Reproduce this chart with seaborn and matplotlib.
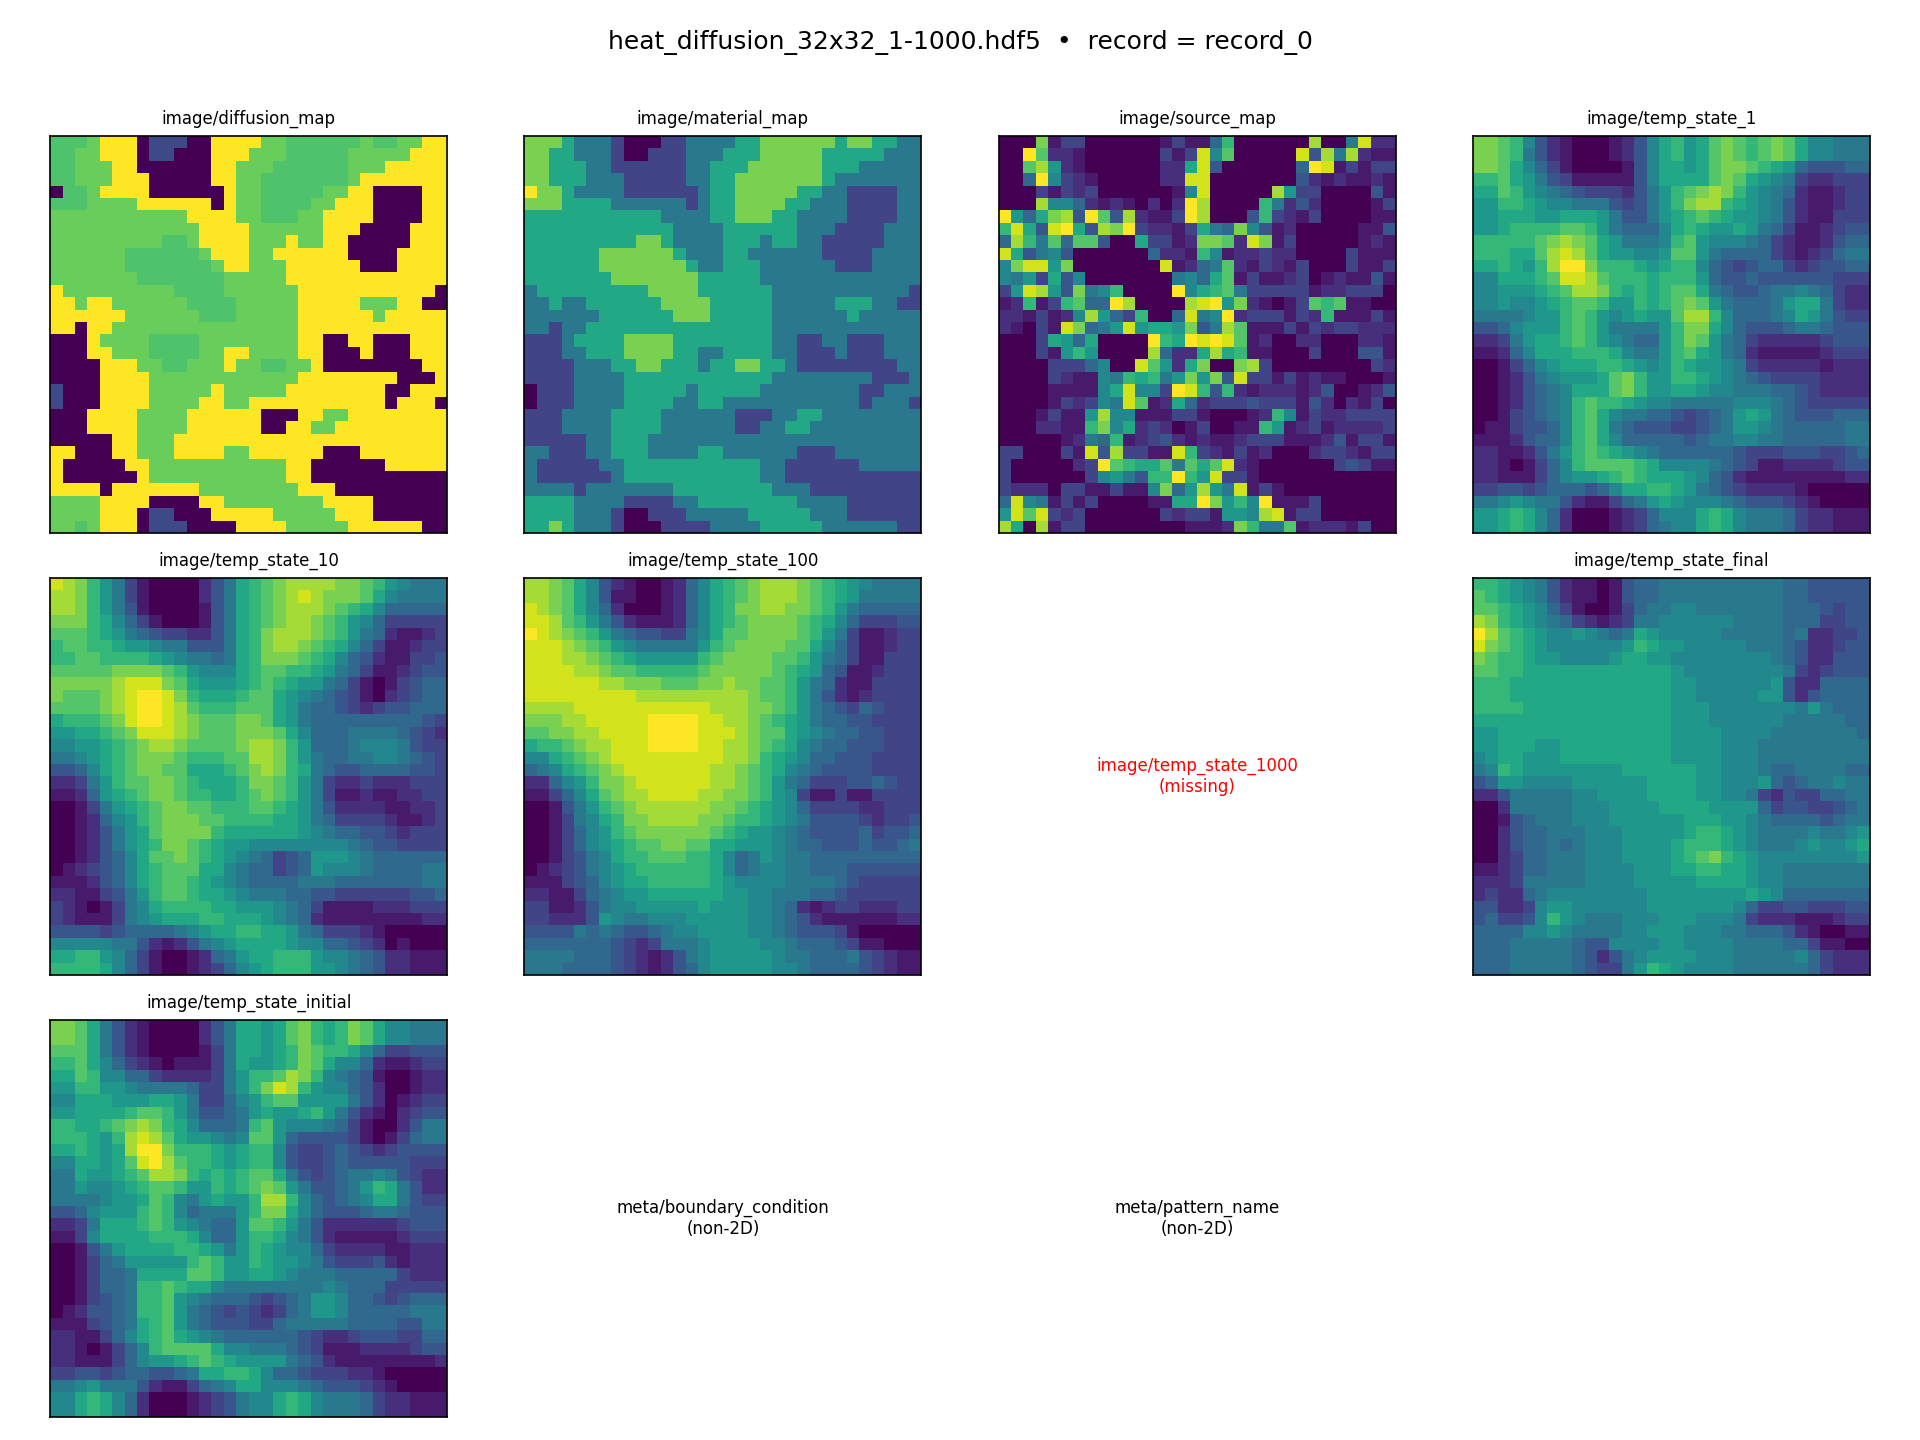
import matplotlib
matplotlib.use("Agg")
import matplotlib.pyplot as plt
import numpy as np
import seaborn as sns

# every map is 32 rows of 32 hex digits (0 = low end of viridis, f = top)
material_levels = [0.0, 0.2, 0.4, 0.6, 0.8, 1.0]
diffusion_levels = [0.22, 0.0, 1.0, 0.77, 0.72, 0.0]

material_map = [
    "44432221000112222334444443443322",
    "44332221001112223334444433333222",
    "44333221111112233344444433322222",
    "44333222111112233444444432222222",
    "54432222111111233444443322111122",
    "44433332222221233444433222111122",
    "33333333333222233444332222111122",
    "33333333333322223333332221111222",
    "33333333344322223332332211111222",
    "33333344444432223322222211112222",
    "33333344444443223332222221112222",
    "33333334444444333332222222222222",
    "23333333334444333333222222222221",
    "22322333333444433333222223332211",
    "22222233333344433333222222322222",
    "22122333333333333333222222222222",
    "11123333444433333333221122111222",
    "11122333444433223333221112111222",
    "11112223344333233443321111111122",
    "11112222333333333333222222221112",
    "01112222333332333332222222211222",
    "01112222333322332222222222212221",
    "11122223333222222111223322222222",
    "11122223333222222112233222222222",
    "11111223332222222222222222222222",
    "22111223332222332222221112222222",
    "21111122333333333332211111122222",
    "21111112333333333332211111111111",
    "22221222222233333333222111111111",
    "33332222111122333333332222111111",
    "33332221001112222233333222111111",
    "33432221000111122223333322222211",
]

source_map = [
    "000c1330 00000131 15a00000 0d006e22",
    "00fb2210 00000313 e7b00000 e4d6d211",
    "00bd8210 00000229 e4000000 5fe13133",
    "005f7321 0000022e e0000000 42121121",
    "00031323 00000017 e00000d8 33000041",
    "000d7752 1210202f d0000a62 42000013",
    "f859cd4f b4d2113f d0004a32 13000011",
    "ae94ef94 dcf32213 965c7412 00000114",
    "5da6b5bb 40093312 ccb2ec13 00000121",
    "e9467400 00005221 a7122322 00003111",
    "7cee8c00 00000e12 56b21321 30003113",
    "76839470 00000067 59b13112 30121141",
    "38ed84c6 7a0000f7 9ab63333 31223330",
    "12a13ab5 5fd0000d ef8c2101 3bab1100",
    "2213127d 853a005e 67f23331 32a11131",
    "21031ec5 68e8998c 46db1113 13233222",
    "00039859 0000fa9f efeb1200 22000221",
    "000318a8 0000d522 9d9a1100 03000441",
    "00003335 700eb829 c00cd300 00000032",
    "00003211 76a9a68c 8c4e3313 12110001",
    "00001111 79e773fe a4a21222 12400124",
    "00001323 76eb1295 23334333 14202130",
    "00013118 d7711133 100012a7 13223333",
    "0002211a c7923201 30011a81 23122223",
    "00000126 5a123421 21123331 11241331",
    "3300031e 4d3311ea 32131200 02332133",
    "30000023 fba99b6b 9be21000 00034311",
    "30000003 7864aafa 8e331000 00000000",
    "32220331 13117c58 d86e1310 00000000",
    "5e761313 00001199 fc8a7f11 13000000",
    "8ebe3230 00000323 31887de1 33000000",
    "d90d1330 00000001 112ca66b 12221300",
]

temp_state_1 = [
    "ccba7421 00012479 a89bcbab cb977666",
    "ccba6421 00012479 a89bcbab cb977666",
    "ccb97531 00001479 989bccba 98544455",
    "aab98643 11111479 999bcb98 76322333",
    "99ba8765 43332468 abcdca87 65211233",
    "88aa9877 66643468 acdda987 64211233",
    "88999889 99864468 9aba9887 64211333",
    "889aaaab ba865557 9a988986 53112344",
    "aaaaabcd cb986667 ab877765 32112455",
    "aaa99bde db988778 bb865555 32123566",
    "99a98adf fcaaa989 aa754345 53234455",
    "77999abe edbaaa9a aa854454 44444333",
    "778889ab ddca9a9a bb965445 66765322",
    "7787789a bba88a9a bcb86555 68996322",
    "6666788a ba878988 bdda7555 67986433",
    "4457888a ba866668 acc97544 45665444",
    "2236899a ba876558 acb86532 22223444",
    "11257999 aaa97668 ab986521 11112333",
    "00135789 99aa9878 a9887632 22221222",
    "00124678 889bca88 aa987654 33332222",
    "00124567 999bca88 99877666 55432222",
    "00124567 abaa9877 66666777 65433333",
    "00134567 ab976655 43456898 65444555",
    "01134457 ab965444 33456887 65555566",
    "11124557 ab975555 54566776 65555566",
    "22112468 aba98765 55555433 34443345",
    "22101357 abbbba97 77765431 12222344",
    "22111357 889aba99 98754211 11111122",
    "33443455 545799aa 98654322 22100000",
    "66787664 21135689 87776544 43210000",
    "889a9752 00012357 779a9766 65322111",
    "889a9752 00012356 779a9766 65322111",
]

temp_state_10 = [
    "edca8631 00002469 abcddddc cba87666",
    "ddca8631 00002469 abcdedcc cb976666",
    "ddca8641 00001469 abcdddcb a9755555",
    "ccca9753 10001469 abcddcba 87533333",
    "bbba9865 43322469 acdddcba 86521123",
    "abbaa988 76644469 acddcba9 75311233",
    "aabbaaaa 98766569 acccba97 54211334",
    "bbbbbccc cba87779 abbaa986 53112344",
    "cccccdee ecb98889 aba98865 31013455",
    "cbbbcdef feca999a bb987654 31023455",
    "bbbbcdef fedbaaab bb986554 32344555",
    "9aaabcef fedcbbbc cb986555 55555543",
    "8899abce eedcbbbc ccb97555 66665432",
    "77889abc ddcbbbbc ddca8555 67776433",
    "66789abc ccbaaabb ddca8655 66776543",
    "44579abc cbb999ab cdca9654 45555443",
    "22368abb ccba999a ccba8632 23222333",
    "112589ab ccbaa99a bcba8631 12112233",
    "0013689a bccbbaaa bba98642 22211223",
    "0012578a bcccbbaa aa998653 33321123",
    "00124689 bcccca99 99998765 54432333",
    "00124689 accba988 77777777 65443333",
    "00124579 bbcba987 65345888 76555555",
    "01234579 abbb9976 55345877 76555566",
    "11124579 abba9876 55556665 55555566",
    "22113468 abba9987 66655443 33333445",
    "32101367 9aaaa998 88765311 11222333",
    "32111367 8999aa99 98765211 11111122",
    "44443455 5567899a a9986533 32100000",
    "77777664 21246789 99987755 43201000",
    "99aa8753 10012568 99aaa877 65422111",
    "aaaa9753 10012357 89aaa887 65422111",
]

temp_state_100 = [
    "ddcb9742 10012579 abcdddcb a9876666",
    "ddcb9741 10012579 abcdddcb a9866666",
    "edcb9752 00012579 accddccb a8655555",
    "eedba864 21112579 abccccba 97533344",
    "fedcba86 54433679 bbccccba 86311233",
    "eeedcba8 7666668a bccccbb9 75311233",
    "eeeddcba 988888ab ccccbba8 65311333",
    "eeeeddcb baaaaabc ccccba98 54112333",
    "eeeeeedd cccbbbcc dccbba86 52113333",
    "eeeeeeee eddddddd ddcbba86 42123333",
    "ddddeeee eeeeeeed ddccba86 54354333",
    "cccddeee eeffffee ddcba986 55443333",
    "bbccddee eeffffee edcbb987 65544333",
    "9aabcdde eeffffee ddcba976 55444333",
    "779abcde eeeeeeee ddca9875 54443333",
    "5679abcd eeeeeeed dcba9765 44443333",
    "22578acc deeeeeed dcba8653 33445433",
    "113579bc ddeeeedd ccba8731 13113333",
    "0014 68ab cddddddc cba98753 33322333",
    "0013 679a ccddddcc baa98764 44432334",
    "0013 578a bccccccb a9887654 44453445",
    "0013 5789 abbccbb9 98887655 44454456",
    "0013 4679 aabbbaa9 75687665 55555555",
    "0123 4678 9aaaaaa9 75677665 55444444",
    "1113 4578 99aaaaa9 87777666 65433333",
    "2211 3567 88999999 88776665 54333333",
    "3311 2467 78888898 88776521 23322233",
    "3322 2487 66777888 88776542 11111122",
    "4444 6565 44567788 88776544 43100000",
    "5555 5554 32366678 88877655 54311000",
    "6666 5554 32124678 88887665 55643211",
    "6665 5554 32124578 88887765 55543211",
]

temp_state_final = [
    "aa987642 11014556 66666666 65544444",
    "ba987642 11014556 66666666 65544444",
    "bba98753 10013566 77666666 65554344",
    "dca98765 32123667 77777666 65553344",
    "fdba9877 87656987 77776666 65622334",
    "ecba9877 77778a98 87777766 65422344",
    "cbaa9887 77789988 77777777 65422444",
    "bbaa9999 99999999 87777777 76323444",
    "aaa99999 99999999 88777777 84225555",
    "aaa99999 99999999 88777778 84245555",
    "aaaa9999 99999999 88877777 77686555",
    "99999999 99999999 88877777 76666655",
    "88999999 99999999 88887777 66666665",
    "88999889 99999999 88887776 66666666",
    "78998889 99999999 88887776 66666666",
    "67a98888 88889999 99887776 55666655",
    "45887777 88888899 99887778 54566766",
    "22466666 77888899 99887763 24335566",
    "00266666 77788889 99988885 34433456",
    "00145666 77788888 89998876 55554566",
    "00245566 67778888 89aa9876 66676678",
    "00245565 67778888 9aaa9876 66787789",
    "00235566 67778888 9abca987 77777778",
    "11235566 67777888 99aa9987 76666666",
    "22236666 67777888 88999987 76666666",
    "23225677 77777788 88888898 75555555",
    "44223788 77777788 88888753 34433344",
    "453347a8 76667778 88777632 22111233",
    "55557787 66667788 87776655 54210011",
    "55566666 54477778 87777666 65531100",
    "55566666 54246788 88777666 66753222",
    "55566666 543368a9 87777666 66653222",
]

temp_state_initial = [
    "ccb96421 00002469 989bca9a cb977666",
    "ccb96421 00002469 989bca9a cb977666",
    "bbb96421 00001369 989acbaa 97533444",
    "aab97532 10111369 889acb97 75211233",
    "99ba7755 32222368 aabdca76 54100122",
    "88aa8876 66653368 aceda877 54200122",
    "77999888 99863357 8abb8888 64201233",
    "889999ab ba864456 89889a86 42102344",
    "aa99abcd ca975556 ab877765 31002466",
    "aaa98ade db988767 bb854444 31013566",
    "99a989df fcaaa989 aa743345 43234444",
    "779989be fdbaa989 aa743345 44444333",
    "6698 89ab ddca9a9a bb964345 66764322",
    "6687 789a bba88a9a bcb86445 68a96422",
    "6666 7889 ba768988 adda7545 67996433",
    "4457 888a ba756668 acc97544 45665444",
    "2236 999a ba876558 bba86422 22223444",
    "1137 9999 aaa97558 aa976421 11112333",
    "0014 6899 99aa9868 a9877532 22211222",
    "0013 5688 888aba88 a9887643 33421222",
    "0013 5569 999bba88 99876665 55553222",
    "0013 556a aba99766 66666676 55533333",
    "0013 456a ab876555 43456887 55434555",
    "0124 456a ab865434 32356887 55555666",
    "1113 4569 ab865444 33566666 55554466",
    "2211 3579 ab987655 55554322 34443355",
    "2210 1357 abbbb977 66654311 12222344",
    "2211 1357 889aba98 88865421 11111112",
    "3344 3455 445699aa 97554333 22100000",
    "6678 6664 21135679 97776544 43210000",
    "779a9752 00012346 779a9766 65322111",
    "779a9752 00012346 779a9766 65322111",
]

panel_names = [
    "image/diffusion_map", "image/material_map", "image/source_map", "image/temp_state_1",
    "image/temp_state_10", "image/temp_state_100", "image/temp_state_1000", "image/temp_state_final",
    "image/temp_state_initial", "meta/boundary_condition", "meta/pattern_name",
]
panel_notes = {"image/temp_state_1000": "missing", "meta/boundary_condition": "non-2D", "meta/pattern_name": "non-2D"}


def hex_grid(rows):
    cells = [r.replace(" ", "") for r in rows]
    for r in cells:
        assert len(r) == 32, r
    return np.array([[int(c, 16) for c in r] for r in cells], dtype=float) / 15


material = np.array([[int(c) for c in r] for r in material_map])
panel_data = {
    "image/diffusion_map": np.array(diffusion_levels)[material],
    "image/material_map": np.array(material_levels)[material],
    "image/source_map": hex_grid(source_map),
    "image/temp_state_1": hex_grid(temp_state_1),
    "image/temp_state_10": hex_grid(temp_state_10),
    "image/temp_state_100": hex_grid(temp_state_100),
    "image/temp_state_final": hex_grid(temp_state_final),
    "image/temp_state_initial": hex_grid(temp_state_initial),
}

fig, axes = plt.subplots(3, 4, figsize=(16, 12), dpi=120)
fig.subplots_adjust(left=50 / 1920, right=1870 / 1920, top=1 - 136 / 1440, bottom=1 - 1417 / 1440,
                    wspace=77 / 397, hspace=45 / 397)

for ax in axes.flat:
    ax.axis("off")

for ax, name in zip(axes.flat, panel_names):
    if name in panel_data:
        ax.axis("on")
        sns.heatmap(panel_data[name], cmap="viridis", cbar=False, square=True,
                    xticklabels=False, yticklabels=False, ax=ax)
        for spine in ax.spines.values():
            spine.set_visible(True)
            spine.set_linewidth(1.0)
        ax.set_title(name, fontsize=10, pad=7.5)
    else:
        note = panel_notes[name]
        ax.text(0.5, 0.5, f"{name}\n({note})", ha="center", va="center", fontsize=10,
                color="red" if note == "missing" else "black", transform=ax.transAxes)

fig.suptitle("heat_diffusion_32x32_1-1000.hdf5  •  record = record_0", fontsize=15, y=0.9795)
fig.savefig("out.png", dpi=120)
